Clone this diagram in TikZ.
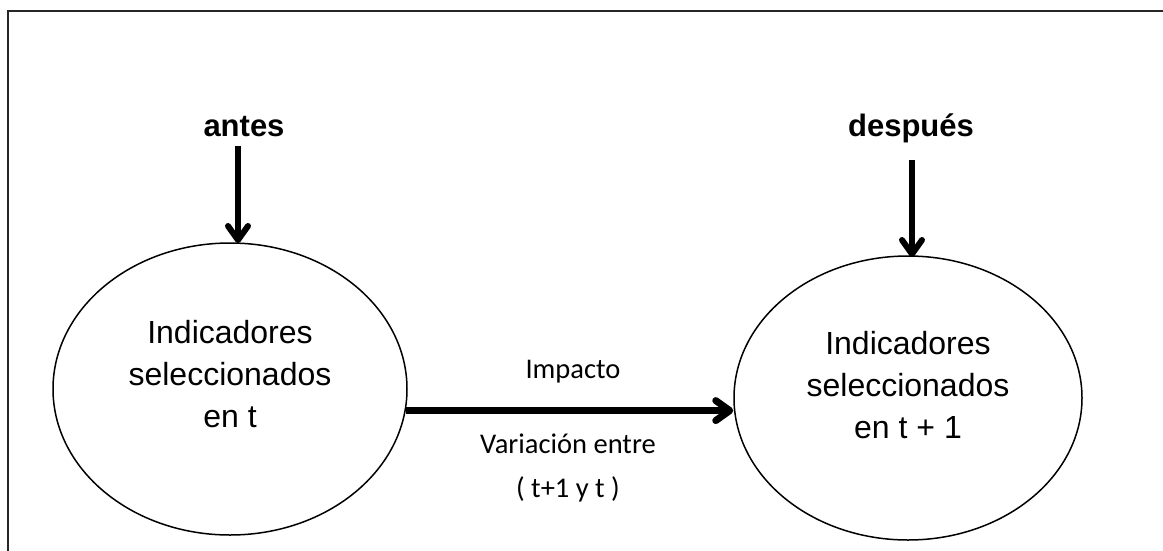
\documentclass[tikz,border=0pt]{standalone}
\usepackage{fontspec}
\setmainfont{Liberation Sans}
\newfontfamily\calib{Carlito}
\usetikzlibrary{arrows.meta,shapes.geometric}
\begin{document}
\begin{tikzpicture}[x=1pt,y=-1pt,
  frameline/.style={line width=2.5pt,draw=black!85},
  oval/.style={ellipse,draw,line width=1.5pt,inner sep=0pt},
  ctext/.style={align=center,inner sep=0pt,font=\fontsize{32}{42}\selectfont},
  btext/.style={inner sep=0pt,font=\fontsize{31}{38}\selectfont\bfseries},
  lbl/.style={align=center,inner sep=0pt,font=\calib\fontsize{28.5}{44}\selectfont},
  varr/.style={line width=6pt,-{Straight Barb[length=14pt,width=20pt,round]}},
  harr/.style={line width=7pt,-{Straight Barb[length=14pt,width=20pt,round]}}
]
\useasboundingbox (0,0) rectangle (1163,550);
\draw[frameline] (1170,11) -- (8,11) -- (8,560);

\node[oval,minimum width=354pt,minimum height=292pt] (L) at (230,389) {};
\node[oval,minimum width=348pt,minimum height=284pt] (R) at (908,398) {};
\node[ctext] (Lt) at (230,374) {Indicadores\\seleccionados\\en t};
\node[ctext] (Rt) at (908,385) {Indicadores\\seleccionados\\en t + 1};

\node[btext,anchor=base] (antes) at (244,136) {antes};
\node[btext,anchor=base] (despues) at (911,136) {después};

\coordinate (LA) at (238,243);
\coordinate (RA) at (912,257);
\draw[varr,shorten <=9pt] (antes.south -| LA) -- (LA);
\draw[varr,shorten <=17pt] (despues.south -| RA) -- (RA);

\draw[harr] (L.-7.5) -- (R.west |- L.-7.5);

\node[lbl] (imp) at (573,372) {Impacto};
\node[lbl] (var) at (568,468) {Variación entre\\( t+1 y t )};
\end{tikzpicture}
\end{document}
